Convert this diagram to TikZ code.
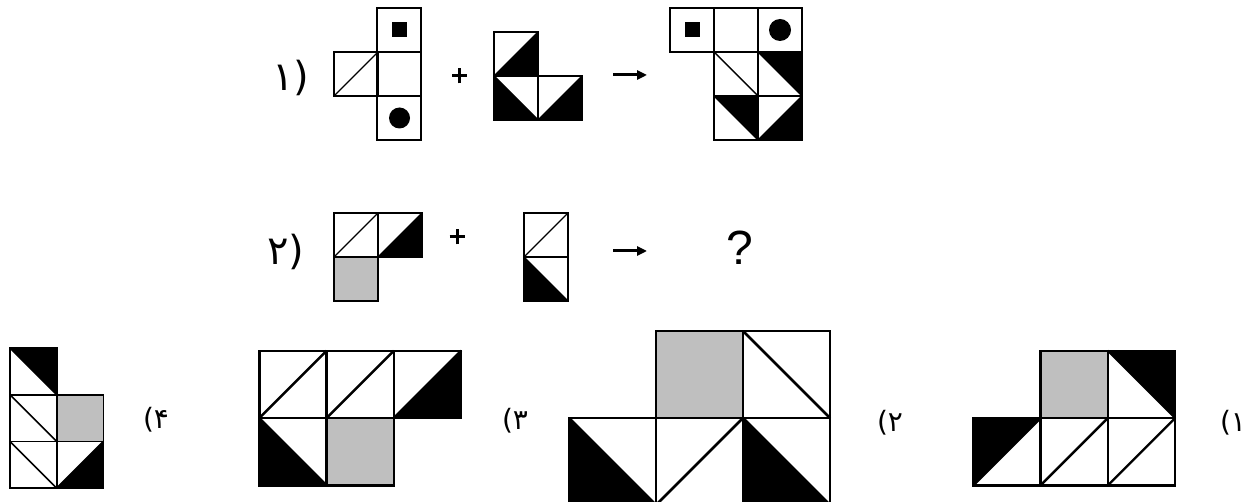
\documentclass[tikz,border=0pt]{standalone}
\usepackage{fontspec}
\setmainfont{DejaVu Sans}
\newfontfamily\qfont{Liberation Sans}
\usetikzlibrary{arrows.meta}
\tikzset{
  lw/.store in=\lwval, lw=1.3,
  gridline/.style={draw=black, line width=\lwval pt, line join=miter},
  blk/.style={fill=black},
  gry/.style={fill=gray!50},
  opplus/.style={line width=3pt},
  oparrow/.style={line width=3pt, -{Triangle[length=10pt,width=9pt]}},
  bigtxt/.style={inner sep=0pt, font=\fontsize{40}{44}\selectfont},
  opttxt/.style={inner sep=0pt, font=\fontsize{28}{32}\selectfont},
}
% cell helpers: x, y (top-left corner, y grows downward), size
\newcommand{\Sq}[3]{\draw[gridline] (#1,#2) rectangle ++(#3,#3);}
\newcommand{\DA}[3]{\draw[gridline] (#1,#2+#3) -- (#1+#3,#2);}   % "/" diagonal
\newcommand{\DB}[3]{\draw[gridline] (#1,#2) -- (#1+#3,#2+#3);}   % "\" diagonal
\newcommand{\TLR}[3]{\fill[blk] (#1,#2+#3) -- (#1+#3,#2+#3) -- (#1+#3,#2) -- cycle;}
\newcommand{\TUL}[3]{\fill[blk] (#1,#2+#3) -- (#1,#2) -- (#1+#3,#2) -- cycle;}
\newcommand{\TUR}[3]{\fill[blk] (#1,#2) -- (#1+#3,#2) -- (#1+#3,#2+#3) -- cycle;}
\newcommand{\TLL}[3]{\fill[blk] (#1,#2) -- (#1,#2+#3) -- (#1+#3,#2+#3) -- cycle;}
\newcommand{\Gr}[3]{\fill[gry] (#1,#2) rectangle ++(#3,#3);}
\begin{document}
\begin{tikzpicture}[x=1pt,y=-1pt]
\useasboundingbox (0,0) rectangle (1246,502);
\clip (0,0) rectangle (1246,502);
\fill[white] (0,0) rectangle (1246,502);

% ---------- Row 1 ----------
\node[bigtxt] (lab1) at (291,78) {۱)};
% shape A
\begin{scope}[lw=1.4]
\Sq{377}{8}{44} \Sq{334}{52}{44} \DA{334}{52}{44} \Sq{377}{52}{44} \Sq{377}{96}{44}
\end{scope}
\fill (392,22.5) rectangle (407,37.5);
\fill (399.5,118) circle (10.5);
% plus
\coordinate (p1) at (459.5,76);
\draw[opplus] ([xshift=-7.5pt]p1) -- ([xshift=7.5pt]p1);
\draw[opplus] ([yshift=-7.5pt]p1) -- ([yshift=7.5pt]p1);
% shape B
\begin{scope}[lw=1.4]
\TLR{494}{32}{44} \Sq{494}{32}{44} \DA{494}{32}{44}
\TLL{494}{76}{44} \Sq{494}{76}{44} \DB{494}{76}{44}
\TLR{538}{76}{44} \Sq{538}{76}{44} \DA{538}{76}{44}
\end{scope}
% arrow
\coordinate (a1s) at (613,75);
\coordinate (a1e) at (647,75);
\draw[oparrow] (a1s) -- (a1e);
% shape C
\begin{scope}[lw=1.4]
\Sq{670}{8}{44} \Sq{714}{8}{44} \Sq{758}{8}{44}
\Sq{714}{52}{44} \DB{714}{52}{44}
\TUR{758}{52}{44} \Sq{758}{52}{44} \DB{758}{52}{44}
\TUR{714}{96}{44} \Sq{714}{96}{44} \DB{714}{96}{44}
\TLR{758}{96}{44} \Sq{758}{96}{44} \DA{758}{96}{44}
\end{scope}
\fill (684.5,22.5) rectangle (699.5,37.5);
\fill (780,30) circle (11);

% ---------- Row 2 ----------
\node[bigtxt] (lab2) at (286,252) {۲)};
\begin{scope}[lw=1.4]
\Sq{334}{213}{44} \DA{334}{213}{44}
\TLR{378}{213}{44} \Sq{378}{213}{44} \DA{378}{213}{44}
\Gr{334}{257}{44} \Sq{334}{257}{44}
\end{scope}
\coordinate (p2) at (457,237);
\draw[opplus] ([xshift=-7.5pt]p2) -- ([xshift=7.5pt]p2);
\draw[opplus] ([yshift=-7.5pt]p2) -- ([yshift=7.5pt]p2);
\begin{scope}[lw=1.4]
\Sq{524}{213}{44} \DA{524}{213}{44}
\TLL{524}{257}{44} \Sq{524}{257}{44} \DB{524}{257}{44}
\end{scope}
\coordinate (a2s) at (613,251);
\coordinate (a2e) at (647,251);
\draw[oparrow] (a2s) -- (a2e);
\node[inner sep=0pt, font=\qfont\fontsize{48}{52}\selectfont] (q) at (740,248) {?};

% ---------- Option 4 ----------
\begin{scope}[lw=1.6]
\TUR{10}{348}{46.7} \Sq{10}{348}{46.7} \DB{10}{348}{46.7}
\Sq{10}{394.7}{46.7} \DB{10}{394.7}{46.7}
\Gr{56.7}{394.7}{46.7} \Sq{56.7}{394.7}{46.7}
\Sq{10}{441.4}{46.7} \DB{10}{441.4}{46.7}
\TLR{56.7}{441.4}{46.7} \Sq{56.7}{441.4}{46.7} \DA{56.7}{441.4}{46.7}
\end{scope}
\node[opttxt] (o4) at (156,420) {(۴};

% ---------- Option 3 ----------
\begin{scope}[lw=2.4]
\Sq{259.3}{350.7}{67.3} \DA{259.3}{350.7}{67.3}
\Sq{326.6}{350.7}{67.3} \DA{326.6}{350.7}{67.3}
\TLR{393.9}{350.7}{67.3} \Sq{393.9}{350.7}{67.3} \DA{393.9}{350.7}{67.3}
\TLL{259.3}{418}{67.3} \Sq{259.3}{418}{67.3} \DB{259.3}{418}{67.3}
\Gr{326.6}{418}{67.3} \Sq{326.6}{418}{67.3}
\end{scope}
\node[opttxt] (o3) at (515,421) {(۳};

% ---------- Option 2 ----------
\begin{scope}[lw=2.8]
\Gr{656}{331}{87} \Sq{656}{331}{87}
\Sq{743}{331}{87} \DB{743}{331}{87}
\TLL{569}{418}{87} \Sq{569}{418}{87} \DB{569}{418}{87}
\Sq{656}{418}{87} \DA{656}{418}{87}
\TLL{743}{418}{87} \Sq{743}{418}{87} \DB{743}{418}{87}
\end{scope}
\node[opttxt] (o2) at (890,423) {(۲};

% ---------- Option 1 ----------
\begin{scope}[lw=2.4]
\Gr{1040.6}{350.7}{67.3} \Sq{1040.6}{350.7}{67.3}
\TUR{1107.9}{350.7}{67.3} \Sq{1107.9}{350.7}{67.3} \DB{1107.9}{350.7}{67.3}
\TUL{973.3}{418}{67.3} \Sq{973.3}{418}{67.3} \DA{973.3}{418}{67.3}
\Sq{1040.6}{418}{67.3} \DA{1040.6}{418}{67.3}
\Sq{1107.9}{418}{67.3} \DA{1107.9}{418}{67.3}
\end{scope}
\node[opttxt] (o1) at (1233,423) {(۱};
\end{tikzpicture}
\end{document}
